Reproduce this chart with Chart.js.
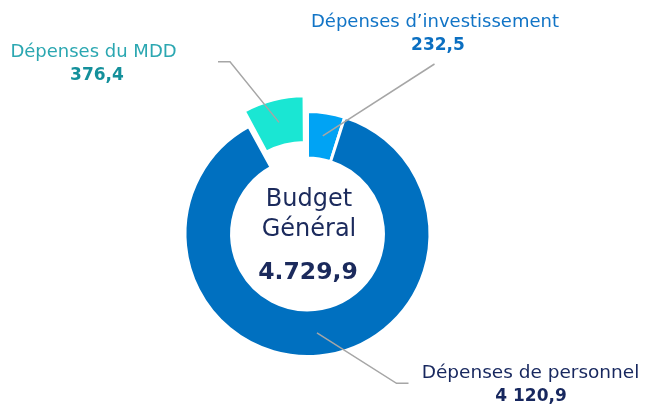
<!DOCTYPE html>
<html>
<head>
<meta charset="utf-8">
<script src="https://cdn.jsdelivr.net/npm/chart.js@4/dist/chart.umd.min.js"></script>
<style>
  body { margin: 0; background: #fff; }
  #wrap { position: relative; width: 646px; height: 405px; overflow: hidden; font-family: "DejaVu Sans", sans-serif; }
  #chart { position: absolute; left: 0; top: 0; }
  .txt { position: absolute; white-space: nowrap; line-height: 1; transform: translateX(-50%); }
  .val { font-weight: bold; }
</style>
</head>
<body>
<div id="wrap">
  <canvas id="chart" width="646" height="405"></canvas>
</div>
<script>
// -----------------------------
// DATA
// -----------------------------
const categories = ["Dépenses du MDD", "Dépenses d’investissement", "Dépenses de personnel"];
const values = [376.4, 232.5, 4120.9];
const totalBudget = 4729.9;
const centerTitle = ["Budget", "Général"];

// styles
const sliceColors = ["#1ae6d3", "#00a3f4", "#0070c0"];
const labelColors = ["#2ba7b1", "#1174c6", "#17275e"];
const valueColors = ["#14909b", "#0b6fc1", "#17275e"];
const sliceOffsets = [42, 0, 0];

// label layout: [centerX, labelTop, valueTop, font size] and leader elbow points
const labelPos = [
  { x: 93.5, top: 41.5, size: 18, vx: 97, vtop: 65.6, elbow: [[218, 61.7], [230, 61.7]] },
  { x: 435, top: 12.1, size: 18, vx: 438, vtop: 36.3, elbow: [[434.5, 64]] },
  { x: 530.5, top: 363.4, size: 18.5, vx: 531, vtop: 386.6, elbow: [[408.5, 383.3], [396.5, 383.3]] }
];

function fmt(v, thousandSep) {
  const parts = v.toFixed(1).split(".");
  const int = parts[0].replace(/\B(?=(\d{3})+(?!\d))/g, thousandSep);
  return int + "," + parts[1];
}

const wrap = document.getElementById("wrap");
function addText(text, cls, x, top, size, color) {
  const d = document.createElement("div");
  d.className = "txt " + cls;
  d.textContent = text;
  d.style.left = x + "px";
  d.style.top = top + "px";
  d.style.fontSize = size + "px";
  d.style.color = color;
  wrap.appendChild(d);
}

categories.forEach((c, i) => {
  const p = labelPos[i];
  addText(c, "", p.x, p.top, p.size, labelColors[i]);
  addText(fmt(values[i], " "), "val", p.vx, p.vtop, 17, valueColors[i]);
});
addText(centerTitle[0], "", 309, 186.4, 24, "#1b2a5c");
addText(centerTitle[1], "", 309, 216.4, 24, "#1b2a5c");
addText(fmt(totalBudget, "."), "val", 308, 260.1, 23.5, "#1b2a5c");

// -----------------------------
// LEADER LINES
// -----------------------------
const leaderLines = {
  id: "leaderLines",
  afterDatasetsDraw(chart) {
    const ctx = chart.ctx;
    const arcs = chart.getDatasetMeta(0).data;
    ctx.save();
    ctx.strokeStyle = "#a6a6a6";
    ctx.lineWidth = 1.5;
    arcs.forEach((arc, i) => {
      const mid = (arc.startAngle + arc.endAngle) / 2;
      const off = (arc.options.offset || 0) / 4;
      const shift = off * (2 - Math.sin(Math.min(Math.PI, arc.circumference)));
      const r = (arc.innerRadius + arc.outerRadius) / 2 + (off ? shift : 0);
      const ax = arc.x + Math.cos(mid) * r;
      const ay = arc.y + Math.sin(mid) * r;
      const pts = labelPos[i].elbow;
      ctx.beginPath();
      ctx.moveTo(pts[0][0], pts[0][1]);
      for (let k = 1; k < pts.length; k++) ctx.lineTo(pts[k][0], pts[k][1]);
      ctx.lineTo(ax, ay);
      ctx.stroke();
    });
    ctx.restore();
  }
};

// -----------------------------
// CHART
// -----------------------------
const sum = values.reduce((a, b) => a + b, 0);

new Chart(document.getElementById("chart"), {
  type: "doughnut",
  data: {
    labels: categories,
    datasets: [{
      data: values,
      backgroundColor: sliceColors,
      borderColor: "#ffffff",
      borderWidth: 3,
      offset: sliceOffsets,
      hoverOffset: 0
    }]
  },
  options: {
    responsive: false,
    animation: false,
    rotation: -values[0] / sum * 360,
    radius: 122.5,
    cutout: "62%",
    layout: { padding: { left: 138, right: 169, top: 84, bottom: 21 } },
    plugins: {
      legend: { display: false },
      tooltip: { enabled: false }
    },
    events: []
  },
  plugins: [leaderLines]
});
</script>
</body>
</html>
